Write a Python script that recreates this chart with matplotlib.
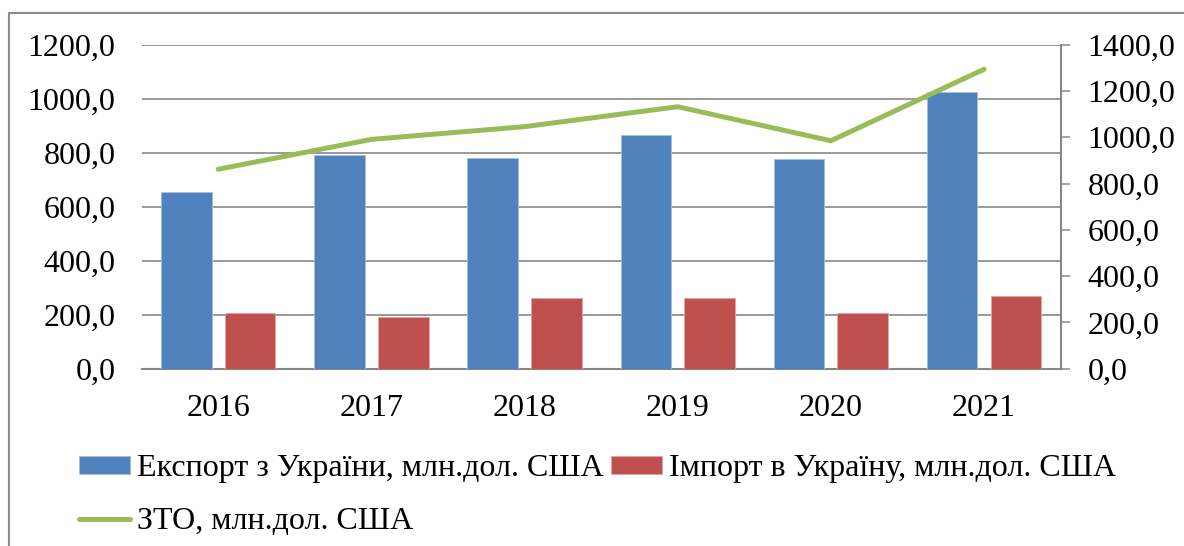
import matplotlib.pyplot as plt
import matplotlib.ticker as mticker
from matplotlib.patches import Rectangle
import numpy as np

plt.rcParams['font.family'] = ['Liberation Serif', 'DejaVu Serif']
plt.rcParams['font.size'] = 23

years = ['2016', '2017', '2018', '2019', '2020', '2021']
export = [656, 793, 782, 867, 778, 1025]
imports = [205, 193, 262, 262, 205, 268]
zto = [862, 991, 1046, 1132, 985, 1294]

c_exp = '#4F81BD'
c_imp = '#C0504D'
c_zto = '#9BBB59'
grid_c = '#878787'

fig = plt.figure(figsize=(11.84, 5.46), dpi=100)
ax = fig.add_axes([0.1197, 0.3247, 0.7761, 0.5934])
ax2 = ax.twinx()

x = np.arange(len(years))
w = 0.33
b1 = ax.bar(x - 0.208, export, width=w, color=c_exp, edgecolor='#A7C0DE', linewidth=0.6, zorder=3)
b2 = ax.bar(x + 0.208, imports, width=w, color=c_imp, edgecolor='#E0A7A6', linewidth=0.6, zorder=3)
l1, = ax2.plot(x, zto, color=c_zto, lw=3.6, solid_capstyle='round', solid_joinstyle='round', zorder=4)

fmt = mticker.FuncFormatter(lambda v, p: f'{v:.1f}'.replace('.', ','))

ax.set_xlim(-0.5, 5.5)
ax.set_ylim(0, 1200)
ax.set_yticks(range(0, 1201, 200))
ax.yaxis.set_major_formatter(fmt)
ax.set_xticks(x)
ax.set_xticklabels(years)
ax.yaxis.grid(True, color=grid_c, lw=1.2)
ax.set_axisbelow(True)
ax.tick_params(axis='y', length=0, pad=19)
ax.tick_params(axis='x', length=0, pad=18)
for s in ['left', 'top', 'right']:
    ax.spines[s].set_visible(False)
ax.spines['bottom'].set_color(grid_c)
ax.spines['bottom'].set_linewidth(1.5)

ax2.set_ylim(0, 1400)
ax2.set_yticks(range(0, 1401, 200))
ax2.yaxis.set_major_formatter(fmt)
ax2.tick_params(axis='y', length=6.5, width=1.1, color=grid_c, pad=13)
for s in ['left', 'top', 'bottom']:
    ax2.spines[s].set_visible(False)
ax2.spines['right'].set_color(grid_c)
ax2.spines['right'].set_linewidth(1.5)

fig.legend([b1, l1, b2],
           ['Експорт з України, млн.дол. США', 'ЗТО, млн.дол. США', 'Імпорт в Україну, млн.дол. США'],
           ncol=2, loc='upper left', bbox_to_anchor=(0.067, 0.168),
           frameon=False, handlelength=1.6, handleheight=0.5, handletextpad=0.22,
           columnspacing=0.22, labelspacing=0.75, borderpad=0, borderaxespad=0)

fig.patches.append(Rectangle((8.5 / 1184, -0.1), 1.2, 1.1 - 13.5 / 546, transform=fig.transFigure,
                             fill=False, edgecolor='#8C8C8C', lw=1.5))

fig.savefig('out.png', dpi=100)
